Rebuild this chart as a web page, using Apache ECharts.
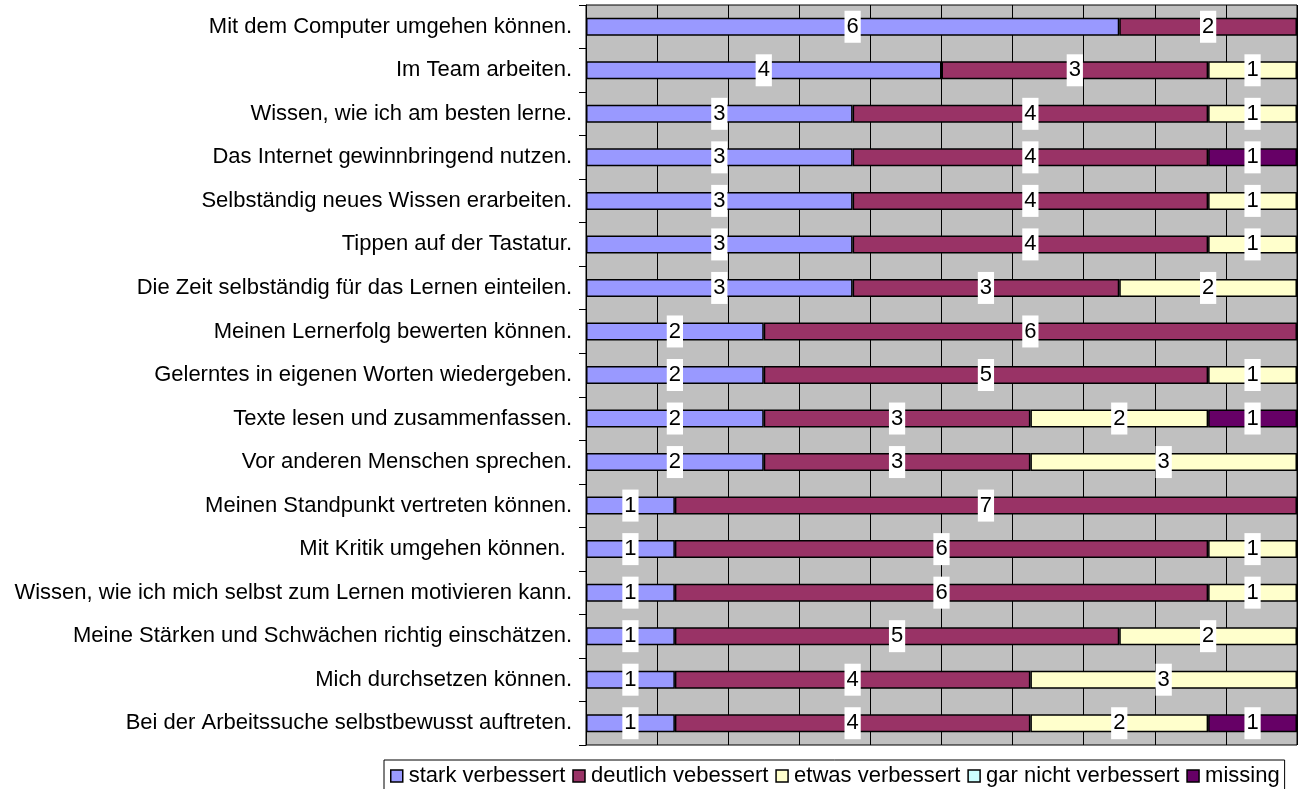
<!DOCTYPE html>
<html><head><meta charset="utf-8">
<script src="https://cdn.jsdelivr.net/npm/echarts@6/dist/echarts.min.js"></script>
<style>html,body{margin:0;padding:0;background:#fff}#c{width:1309px;height:789px}</style>
</head><body><div id="c"></div>
<script>
const categories = [
  "Mit dem Computer umgehen können.",
  "Im Team arbeiten.",
  "Wissen, wie ich am besten lerne.",
  "Das Internet gewinnbringend nutzen.",
  "Selbständig neues Wissen erarbeiten.",
  "Tippen auf der Tastatur.",
  "Die Zeit selbständig für das Lernen einteilen.",
  "Meinen Lernerfolg bewerten können.",
  "Gelerntes in eigenen Worten wiedergeben.",
  "Texte lesen und zusammenfassen.",
  "Vor anderen Menschen sprechen.",
  "Meinen Standpunkt vertreten können.",
  "Mit Kritik umgehen können. ",
  "Wissen, wie ich mich selbst zum Lernen motivieren kann.",
  "Meine Stärken und Schwächen richtig einschätzen.",
  "Mich durchsetzen können.",
  "Bei der Arbeitssuche selbstbewusst auftreten."
];
const seriesNames = ["stark verbessert","deutlich vebessert","etwas verbessert","gar nicht verbessert","missing"];
const stark    = [6,4,3,3,3,3,3,2,2,2,2,1,1,1,1,1,1];
const deutlich = [2,3,4,4,4,4,3,6,5,3,3,7,6,6,5,4,4];
const etwas    = [0,1,1,0,1,1,2,0,1,2,3,0,1,1,2,3,2];
const garNicht = [0,0,0,0,0,0,0,0,0,0,0,0,0,0,0,0,0];
const missing  = [0,0,0,1,0,0,0,0,0,1,0,0,0,0,0,0,1];
const colors = ["#9999FF","#993366","#FFFFCC","#CCFFFF","#660066"];
const values = [stark, deutlich, etwas, garNicht, missing];

const FONT = "'Liberation Sans', Arial, sans-serif";
const chart = echarts.init(document.getElementById('c'), null, {renderer:'canvas'});
chart.setOption({
  animation:false,
  textStyle:{fontFamily:FONT},
  grid:{left:586, top:5, width:711, height:740, show:true, backgroundColor:'#C0C0C0', borderColor:'#000', borderWidth:1, containLabel:false},
  xAxis:{type:'value', min:0, max:8, interval:0.8,
    axisLabel:{show:false}, axisTick:{show:false}, axisLine:{show:false},
    splitLine:{show:true, lineStyle:{color:'#000', width:1}}},
  yAxis:{type:'category', data:categories, inverse:true,
    axisLine:{show:true, lineStyle:{color:'#000', width:1}},
    axisTick:{show:true, length:7, lineStyle:{color:'#000'}},
    axisLabel:{margin:14, color:'#000', fontSize:22, fontFamily:FONT, padding:[4,0,0,0]},
    splitLine:{show:false}},
  legend:{left:384, top:760, orient:'horizontal', icon:'rect', itemWidth:12, itemHeight:12, itemGap:7,
    padding:[5,5,6,6], borderColor:'#000', borderWidth:1, backgroundColor:'#fff',
    textStyle:{fontSize:22, color:'#000', fontFamily:FONT, padding:[0,0,0,1]},
    itemStyle:{borderColor:'#000', borderWidth:1.5},
    data:seriesNames},
  series: seriesNames.map((n,i)=>({
    name:n, type:'bar', stack:'s', barWidth:18,
    data: values[i].map(v=> v===0 ? null : v),
    itemStyle:{color:colors[i], borderColor:'#000', borderWidth:1.5},
    label:{show:true, position:'inside', color:'#000', fontSize:22, fontFamily:FONT,
      backgroundColor:'#fff', padding:[5,2,5,2], lineHeight:22,
      formatter:p=> p.value ? String(p.value) : ''}
  }))
});
</script></body></html>
